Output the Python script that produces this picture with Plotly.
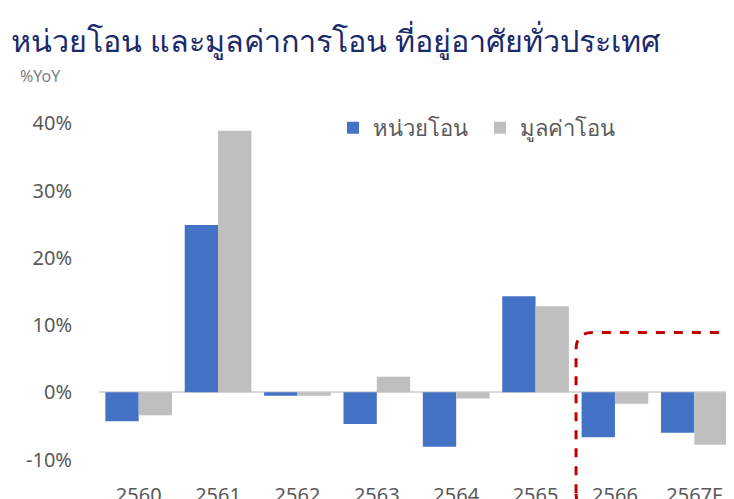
import plotly.graph_objects as go

years = ["2560", "2561", "2562", "2563", "2564", "2565", "2566", "2567F"]
units_yoy = [-4.3, 24.9, -0.5, -4.7, -8.1, 14.3, -6.7, -6.0]
value_yoy = [-3.4, 38.9, -0.5, 2.3, -0.9, 12.8, -1.7, -7.8]
series_names = ["หน่วยโอน", "มูลค่าโอน"]
title_text = "หน่วยโอน และมูลค่าการโอน ที่อยู่อาศัยทั่วประเทศ"
y_ticks = [-10, 0, 10, 20, 30, 40]
y_tick_labels = [f"{v}%" for v in y_ticks]

# page has an 8px body margin: lay out in window pixels, shifted by OFF
OFF = 8
W, H = 734 - OFF, 499 - OFF
YMIN, YMAX = -12, 42
ZERO_Y, PX_PER_UNIT = 392.7 - OFF, 6.73
MT = ZERO_Y - YMAX * PX_PER_UNIT
MB = H - (ZERO_Y - YMIN * PX_PER_UNIT)
ML, MR = 99 - OFF, 0
PW, PH = W - ML - MR, H - MT - MB

font_family = "Noto Sans, Roboto, sans-serif"

def px_to_paper(px, py):
    # px, py in window pixels
    return (px - OFF - ML) / PW, (H - MB - (py - OFF)) / PH

fig = go.Figure()
fig.add_trace(go.Bar(x=years, y=units_yoy, name=series_names[0],
                     marker=dict(color="#4472C4", line=dict(width=0))))
fig.add_trace(go.Bar(x=years, y=value_yoy, name=series_names[1],
                     marker=dict(color="#BFBFBF", line=dict(width=0))))

def ypaper(v):
    return (v - YMIN) / (YMAX - YMIN)

# rounded dashed highlight box (x in category units, y in paper units)
x0, x1 = 5.51, 7.58
rx = 0.21
top, bot = ypaper(8.9), ypaper(-17.5)
ry = ypaper(8.9) - ypaper(6.4)
path = (f"M {x0},{bot + ry} L {x0},{top - ry} Q {x0},{top} {x0 + rx},{top} "
        f"L {x1 - rx},{top} Q {x1},{top} {x1},{top - ry} "
        f"L {x1},{bot + ry} Q {x1},{bot} {x1 - rx},{bot} "
        f"L {x0 + rx},{bot} Q {x0},{bot} {x0},{bot + ry} Z")
fig.add_shape(type="path", path=path, xref="x", yref="paper",
              line=dict(color="#C00000", width=3, dash="dash"),
              fillcolor="rgba(0,0,0,0)", layer="above")

ax, ay = px_to_paper(18, 76)
lx, ly = px_to_paper(333, 128)

fig.update_layout(
    width=W, height=H,
    margin=dict(l=ML, r=MR, t=MT, b=MB, pad=0, autoexpand=False),
    paper_bgcolor="white", plot_bgcolor="white",
    barmode="group", bargap=0.16, bargroupgap=0,
    font=dict(family=font_family, color="#595959"),
    title=dict(text=title_text, xref="container", yref="container",
               x=(11 - OFF) / W, xanchor="left", y=1 - (41 - OFF) / H, yanchor="middle",
               font=dict(size=30.5, color="#1B2A6B", family=font_family)),
    showlegend=True,
    legend=dict(orientation="h", xref="paper", yref="paper",
                x=lx, xanchor="left", y=ly, yanchor="middle",
                font=dict(size=22, color="#595959"),
                itemwidth=30, entrywidth=102, bgcolor="rgba(0,0,0,0)",
                traceorder="normal"),
    xaxis=dict(type="category", range=[-0.5, 7.5], showgrid=False, showline=False,
               zeroline=False, ticks="", tickfont=dict(size=20, color="#595959"),
               ticklabelstandoff=8),
    yaxis=dict(range=[YMIN, YMAX], tickmode="array", tickvals=y_ticks,
               ticktext=y_tick_labels,
               showgrid=False, showline=False, zeroline=True,
               zerolinecolor="#D9D9D9", zerolinewidth=2,
               ticks="", tickfont=dict(size=20, color="#595959"),
               ticklabelstandoff=26),
    annotations=[dict(text="%YoY", xref="paper", yref="paper",
                      x=ax, xanchor="left", y=ay, yanchor="middle",
                      showarrow=False, font=dict(size=16, color="#808080"))],
)

fig.write_html("out.html")
